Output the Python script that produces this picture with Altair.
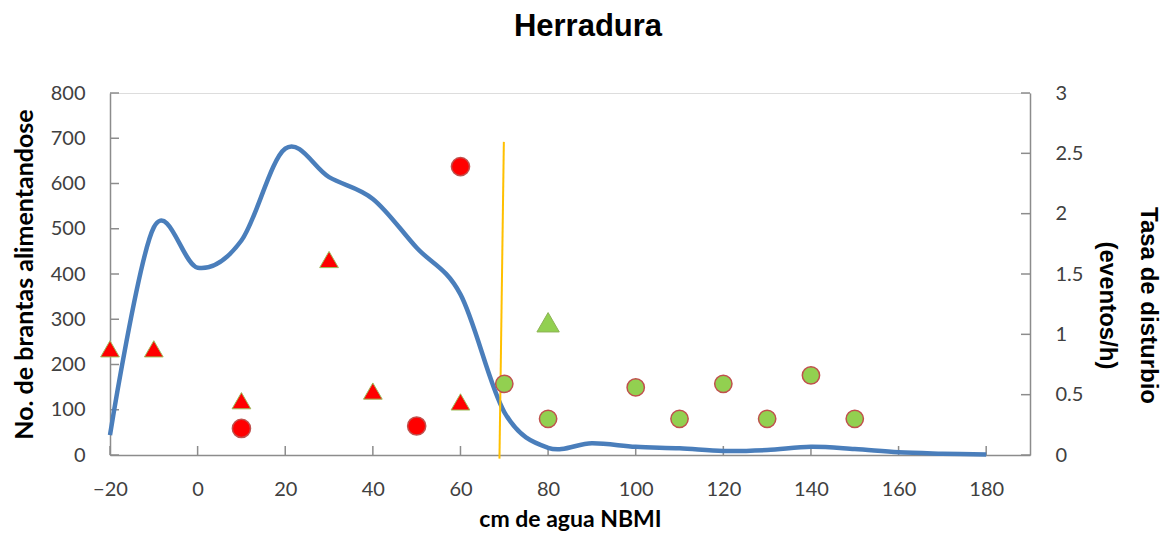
import altair as alt
import pandas as pd

# ---------------- data ----------------
chart_title = "Herradura"
x_title = "cm de agua NBMI"
y_left_title = "No. de brantas alimentandose"
y_right_title = ["Tasa de disturbio", "(eventos/h)"]

x_ticks = [-20, 0, 20, 40, 60, 80, 100, 120, 140, 160, 180]
y_left_ticks = [0, 100, 200, 300, 400, 500, 600, 700, 800]
y_right_ticks = [0, 0.5, 1, 1.5, 2, 2.5, 3]

# blue smoothed curve (No. de brantas alimentandose, left axis)
curve_x = [-20, -10, 0, 10, 20, 30, 40, 50, 60, 70, 80, 90, 100, 110, 120, 130, 140, 150, 160, 170, 180]
curve_y = [44, 503, 414, 474, 677, 614, 566, 458, 355, 95, 16, 26, 18, 15, 9, 11, 18, 13, 6, 3, 1]

# disturbance markers (right axis)
red_tri_x = [-20, -10, 10, 30, 40, 60]
red_tri_y = [0.88, 0.88, 0.45, 1.62, 0.53, 0.44]
red_circ_x = [10, 50, 60]
red_circ_y = [0.22, 0.24, 2.39]
green_tri_x = [80]
green_tri_y = [1.10]
green_circ_x = [70, 80, 100, 110, 120, 130, 140, 150]
green_circ_y = [0.59, 0.30, 0.56, 0.30, 0.59, 0.30, 0.66, 0.30]

# orange threshold line (left axis units)
thr_x = [69.9, 68.9]
thr_y = [692, -8]

# ---------------- layout ----------------
W, H = 920, 362
TICK = 9

x_scale = alt.Scale(domain=[-20, 190], nice=False, zero=False)
yl_scale = alt.Scale(domain=[0, 800], nice=False)
yr_scale = alt.Scale(domain=[0, 3], nice=False)

AXIS_GRAY = "#8C8C8C"
LABEL = "#404040"

x_axis = alt.Axis(
    values=x_ticks, title=x_title, grid=False, ticks=False, tickSize=0,
    domainColor=AXIS_GRAY, domainWidth=1.5,
    labelFont="Lato", labelFontSize=20, labelColor=LABEL, labelPadding=24,
    labelFlush=False, labelOverlap=False,
    titleFont="Lato", titleFontSize=23, titleFontWeight="bold", titleColor="#000000",
    titleX=W / 2, titleY=64, titleBaseline="middle", titleAlign="center",
)
yl_axis = alt.Axis(
    values=y_left_ticks, title=y_left_title, orient="left", grid=False, ticks=False, tickSize=0,
    domainColor=AXIS_GRAY, domainWidth=1.5,
    labelFont="Lato", labelFontSize=20, labelColor=LABEL, labelPadding=25,
    labelOverlap=False, labelFlush=False,
    titleFont="Lato", titleFontSize=25, titleFontWeight="bold", titleColor="#000000",
    titleX=-86, titleY=H / 2, titleBaseline="middle", titleAlign="center", titleAngle=270,
)
yr_axis = alt.Axis(
    values=y_right_ticks, title=y_right_title, orient="right", grid=False, ticks=False, tickSize=0,
    format="~g",
    domainColor=AXIS_GRAY, domainWidth=1.5,
    labelFont="Lato", labelFontSize=20, labelColor=LABEL, labelPadding=25,
    labelOverlap=False, labelFlush=False,
    titleFont="Liberation Sans", titleFontSize=24, titleFontWeight="bold", titleColor="#000000",
    titleX=117, titleY=212, titleBaseline="middle", titleAlign="center", titleAngle=90,
    titleLineHeight=41,
)

curve_df = pd.DataFrame({"x": curve_x, "y": curve_y})
thr_df = pd.DataFrame({"x": thr_x, "y": thr_y})
xt_df = pd.DataFrame({"x": x_ticks})
ylt_df = pd.DataFrame({"y": y_left_ticks})
yrt_df = pd.DataFrame({"y": y_right_ticks})

X = alt.X("x:Q", scale=x_scale, axis=x_axis)
YL = alt.Y("y:Q", scale=yl_scale, axis=yl_axis)
YR = alt.Y("y:Q", scale=yr_scale, axis=yr_axis)

curve = alt.Chart(curve_df).mark_line(
    interpolate="cardinal", tension=0, color="#4A7EBB", strokeWidth=4.5
).encode(x=X, y=YL)

thr = alt.Chart(thr_df).mark_line(color="#FFC000", strokeWidth=2, clip=False).encode(x=X, y=YL)

x_tick_rules = alt.Chart(xt_df).mark_rule(color=AXIS_GRAY, strokeWidth=1.5).encode(
    x=X, y=alt.value(H), y2=alt.value(H - TICK)
)
yl_tick_rules = alt.Chart(ylt_df).mark_rule(color=AXIS_GRAY, strokeWidth=1.5).encode(
    y=YL, x=alt.value(0), x2=alt.value(TICK)
)

left_group = alt.layer(x_tick_rules, yl_tick_rules, curve, thr)


def pts(xs, ys, shape, fill, stroke, size, sw):
    df = pd.DataFrame({"x": xs, "y": ys})
    return alt.Chart(df).mark_point(
        shape=shape, filled=True, fill=fill, stroke=stroke, strokeWidth=sw,
        size=size, opacity=1, clip=False
    ).encode(x=X, y=YR)


yr_tick_rules = alt.Chart(yrt_df).mark_rule(color=AXIS_GRAY, strokeWidth=1.5).encode(
    y=YR, x=alt.value(W), x2=alt.value(W - TICK)
)

right_group = alt.layer(
    yr_tick_rules,
    pts(red_tri_x, red_tri_y, "triangle-up", "#FF0000", "#9BBB59", 350, 1),
    pts(red_circ_x, red_circ_y, "circle", "#FF0000", "#C0504D", 330, 1.5),
    pts(green_tri_x, green_tri_y, "triangle-up", "#92D050", "#8DB255", 500, 1),
    pts(green_circ_x, green_circ_y, "circle", "#92D050", "#C0504D", 300, 1.5),
)

chart = alt.layer(left_group, right_group).resolve_scale(y="independent").properties(
    width=W, height=H,
    title=alt.TitleParams(
        chart_title, font="Liberation Sans", fontSize=31, fontWeight="bold", color="#000000",
        anchor="middle", frame="group", dx=18, offset=16, baseline="alphabetic",
    ),
    autosize=alt.AutoSizeParams(type="none"),
    padding={"left": 102, "top": 85, "right": 132, "bottom": 78},
).configure_view(stroke=None).configure(background="white")

chart.save("out.html", embed_options={"renderer": "svg", "actions": False})
